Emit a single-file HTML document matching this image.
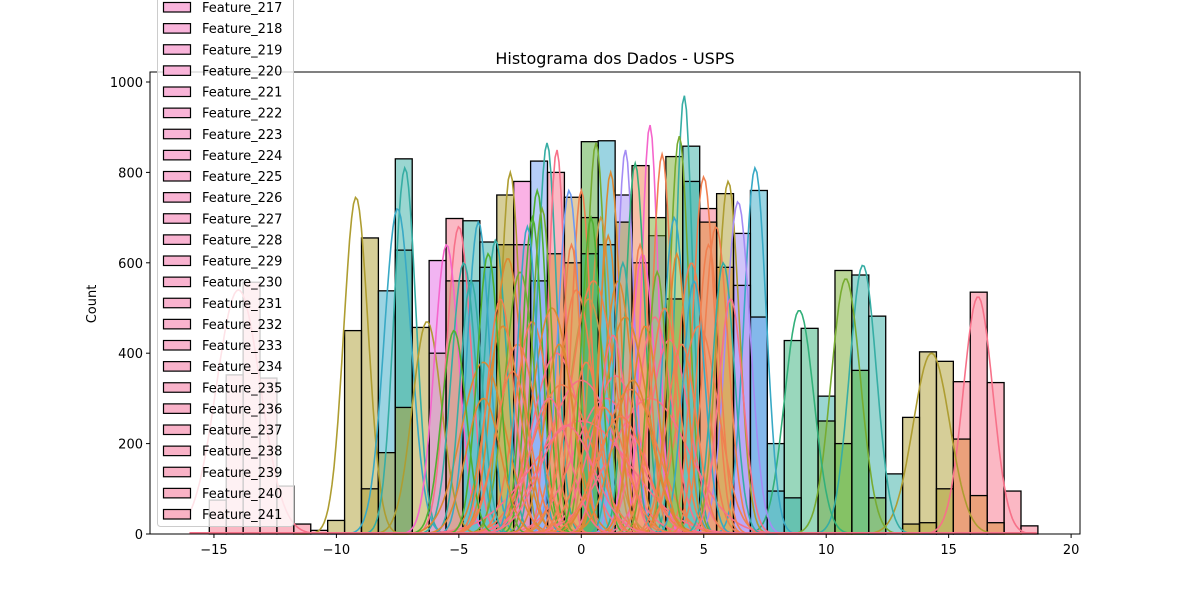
<!DOCTYPE html>
<html><head><meta charset="utf-8"><style>
html,body{margin:0;padding:0;background:#fff;}
svg{display:block;font-family:"DejaVu Sans","Liberation Sans",sans-serif;}
</style></head><body>
<svg id="chart" width="1200" height="600" viewBox="0 0 1200 600">
<text x="615" y="64" text-anchor="middle" font-size="16" fill="#000">Histograma dos Dados - USPS</text>
<text transform="translate(96,304) rotate(-90)" text-anchor="middle" font-size="13" fill="#000">Count</text>
<g id="bars"></g>
<g id="curves"></g>
<g id="axes"></g>
<g id="legend"></g>
</svg>
<script>
// axis tick labels
const xTicks = [-15, -10, -5, 0, 5, 10, 15, 20];
const yTicks = [0, 200, 400, 600, 800, 1000];
// histogram bins
const binStart = -15.19;
const binWidth = 0.6905;
// front bars: bin index, count, colour
const barBins   = [0,1,2,3,4,5,6,7,8,9,10,11,12,13,14,15,16,17,18,19,20,21,22,23,24,25,26,27,28,29,30,31,32,33,34,35,36,37,38,39,40,41,42,43,44,45,46,47,48];
const barCounts = [75,352,557,345,106,22,8,30,450,655,538,830,457,605,698,693,646,750,780,825,800,745,868,870,750,815,660,835,858,720,753,665,760,200,428,455,305,583,573,482,133,258,403,382,337,535,335,95,18];
const barColors = ['#f77189','#f77189','#f77189','#f77189','#f77189','#f77189','#f77189','#ae9d31','#ae9d31','#ae9d31','#38a9c5','#36ada4','#ae9d31','#e36ae6','#f77189','#36ada4','#36ada4','#ae9d31','#f565cc','#6e9bf4','#f77189','#c89a4a','#4fa83a','#38a9c5','#a48cf4','#f08050','#a48cf4','#77ab31','#36ada4','#f77189','#ae9d31','#a48cf4','#38a9c5','#36ada4','#33b07a','#33b07a','#36ada4','#77ab31','#36ada4','#36ada4','#36ada4','#ae9d31','#ae9d31','#ae9d31','#f77189','#f77189','#f77189','#f77189','#f77189'];
// back (overlapping) bars
const backBins   = [9,10,11,11,13,14,15,17,19,22,22,23,25,28,31,32,33,34,36,37,38,39,41,42,43,44,45,46,16,18,20,24,26,29,30,21,27];
const backCounts = [100,180,628,280,400,560,560,640,560,700,620,640,600,780,550,480,95,80,250,200,362,80,22,25,100,210,85,25,590,640,620,690,700,690,590,600,520];
const backColors = ['#ae9d31','#ae9d31','#36ada4','#ae9d31','#c8a0a0','#b89070','#38a9c5','#ae9d31','#6e9bf4','#4fb031','#33b07a','#38a9c5','#f08050','#36ada4','#a48cf4','#6e9bf4','#38a9c5','#36ada4','#77ab31','#4fb031','#4fb031','#77ab31','#ae9d31','#ae9d31','#ae9d31','#dc8932','#dc8932','#dc8932','#38a9c5','#c87a9a','#dc8932','#ae9d31','#77ab31','#dc8932','#dc8932','#dc8932','#77ab31'];
// KDE curves: mean, peak count, spread, colour
const kdeMeans  = [-14,-9.2,-7.2,-7.5,-6.3,16.2,14.3,11.5,10.8,8.9,7.1,4.2,2.8,1.8,0.6,-1.4,-2.9,-5.0,-5.5,5.0,6.0,6.4,4.0,-1.0,0.0,-2.0,-3.5,-4.2,1.2,2.2,3.3,-0.5,0.8,-1.8,3.8,5.5,-4.8,-3.0,2.5,1.5,-0.2,0.3,-2.5,4.5,-1.2,3.0,0.0,-0.8,1.0,2.0,-3.2,3.6,-2.0,0.5,1.8,-1.0,-4.0,4.8,0.0,2.8,-2.6,1.4,
  -4.5,-3.8,-2.2,-1.6,-0.4,0.4,1.1,1.7,2.4,3.1,3.9,4.6,5.2,5.8,-5.2,-3.3,-0.9,0.2,1.3,2.6,3.4,-2.8,-1.3,0.9,2.1,4.1,-4.0,6.1,-0.6,1.6];
const kdePeaks  = [540,745,810,720,470,525,400,595,565,495,810,970,905,850,865,865,800,680,640,790,780,735,880,850,760,700,650,690,800,820,840,760,700,760,700,680,600,610,620,560,540,520,580,600,500,480,340,330,300,320,460,430,470,560,480,400,380,460,250,300,420,350,
  560,620,680,720,640,700,660,600,640,580,620,560,640,600,450,520,420,380,440,460,500,360,300,280,340,420,300,520,240,260];
const kdeSpread = [0.9,0.5,0.45,0.55,0.6,0.6,0.75,0.55,0.6,0.6,0.45,0.35,0.35,0.35,0.4,0.4,0.4,0.5,0.5,0.45,0.45,0.5,0.4,0.35,0.4,0.4,0.45,0.45,0.4,0.4,0.4,0.45,0.45,0.4,0.45,0.5,0.5,0.6,0.5,0.6,0.7,0.8,0.6,0.6,0.8,0.7,1.4,1.2,1.3,1.1,0.7,0.8,0.7,0.9,0.9,1.0,0.9,0.8,2.0,1.6,0.8,1.0,
  0.45,0.45,0.4,0.4,0.4,0.4,0.4,0.4,0.4,0.4,0.4,0.45,0.45,0.45,0.5,0.55,0.6,0.6,0.55,0.55,0.6,0.7,0.8,0.9,0.8,0.6,0.7,0.5,1.1,1.0];
const kdeColors = ['#f77189','#ae9d31','#36ada4','#38a9c5','#ae9d31','#f77189','#ae9d31','#36ada4','#77ab31','#33b07a','#38a9c5','#36ada4','#f565cc','#a48cf4','#77ab31','#36ada4','#ae9d31','#f77189','#f565cc','#f08050','#ae9d31','#a48cf4','#77ab31','#f77189','#f08050','#4fb031','#36ada4','#38a9c5','#dc8932','#33b07a','#f08050','#6e9bf4','#c89a4a','#4fb031','#38a9c5','#f08050','#36ada4','#dc8932','#f565cc','#dc8932','#f08050','#c89a4a','#77ab31','#f08050','#dc8932','#f77189','#f77189','#f08050','#f77189','#f08050','#dc8932','#f77189','#f08050','#f08050','#dc8932','#f77189','#dc8932','#f08050','#f77189','#f77189','#f08050','#f77189',
  '#36ada4','#4fb031','#38a9c5','#77ab31','#f08050','#4fb031','#dc8932','#36ada4','#f08050','#77ab31','#dc8932','#38a9c5','#f08050','#36ada4','#4fb031','#f08050','#dc8932','#f08050','#f77189','#dc8932','#f08050','#f08050','#f77189','#f08050','#dc8932','#f08050','#dc8932','#f77189','#f77189','#f08050'];
// legend entries
const legendLabels = [];
for (let k = 217; k <= 241; k++) legendLabels.push('Feature_' + k);

const NS = 'http://www.w3.org/2000/svg';
const X0 = 150, X1 = 1080, Y0 = 72, Y1 = 534;
const xScale = v => 581.3 + 24.49 * v;
const yScale = c => 534 - 0.452 * c;
function mk(tag, attrs, parent) {
  const e = document.createElementNS(NS, tag);
  for (const k in attrs) e.setAttribute(k, attrs[k]);
  parent.appendChild(e);
  return e;
}
const barsG = document.getElementById('bars');
function drawBar(i, c, col, name) {
  const l = xScale(binStart + i * binWidth), r = xScale(binStart + (i + 1) * binWidth);
  const el = mk('rect', {x: l, y: yScale(c), width: r - l, height: yScale(0) - yScale(c), fill: col, 'fill-opacity': 0.5, stroke: '#000', 'stroke-width': 1.3}, barsG);
  
  
}
barBins.forEach((b, j) => drawBar(b, barCounts[j], barColors[j], 'bar-bin-' + b));
backBins.forEach((b, j) => drawBar(b, backCounts[j], backColors[j], 'back-bar-bin-' + b));

const curvesG = document.getElementById('curves');
kdeMeans.forEach((m, j) => {
  const s = kdeSpread[j], p = kdePeaks[j];
  let d = '';
  const lo = Math.max(-16, m - 5 * s), hi = Math.min(18.6, m + 5 * s);
  for (let v = lo; v <= hi + 1e-9; v += 0.08) {
    const c = p * Math.exp(-0.5 * ((v - m) / s) ** 2);
    d += (d ? 'L' : 'M') + xScale(v).toFixed(1) + ',' + yScale(c).toFixed(1);
  }
  const el = mk('path', {d: d, fill: 'none', stroke: kdeColors[j], 'stroke-width': 1.6}, curvesG);
  
  
});
const base = mk('line', {x1: xScale(-16), x2: xScale(18.6), y1: 533, y2: 533, stroke: '#f77189', 'stroke-width': 2}, curvesG);



const axesG = document.getElementById('axes');
const frame = mk('rect', {x: X0, y: Y0, width: X1 - X0, height: Y1 - Y0, fill: 'none', stroke: '#000', 'stroke-width': 1}, axesG);


xTicks.forEach(t => {
  const x = xScale(t);
  mk('line', {x1: x, x2: x, y1: Y1, y2: Y1 + 4, stroke: '#000'}, axesG);
  const tx = mk('text', {x: x, y: Y1 + 20, 'text-anchor': 'middle', 'font-size': 13}, axesG);
  tx.textContent = t < 0 ? '\u2212' + Math.abs(t) : String(t);
  
  
});
yTicks.forEach(t => {
  const y = yScale(t);
  mk('line', {x1: X0 - 4, x2: X0, y1: y, y2: y, stroke: '#000'}, axesG);
  const tx = mk('text', {x: X0 - 7, y: y + 5, 'text-anchor': 'end', 'font-size': 13}, axesG);
  tx.textContent = String(t);
  
  
});

const legG = document.getElementById('legend');
const lb = mk('rect', {x: 157.5, y: -10, width: 136, height: 536.5, rx: 3, fill: '#fff', 'fill-opacity': 0.8, stroke: '#ccc'}, legG);


legendLabels.forEach((lab, j) => {
  const y = 7 + j * 21.125;
  const g = mk('g', {}, legG);
  
  
  const t = j / 24;
  const col = 'rgb(' + 249 + ',' + Math.round(180 - 2 * t) + ',' + Math.round(220 - 24 * t) + ')';
  mk('rect', {x: 163.5, y: y - 4.5, width: 27, height: 9.5, fill: col, stroke: '#000', 'stroke-width': 1.2}, g);
  const tx = mk('text', {x: 202, y: y + 5, 'font-size': 13}, g);
  tx.textContent = lab;
});
</script>
</body></html>
